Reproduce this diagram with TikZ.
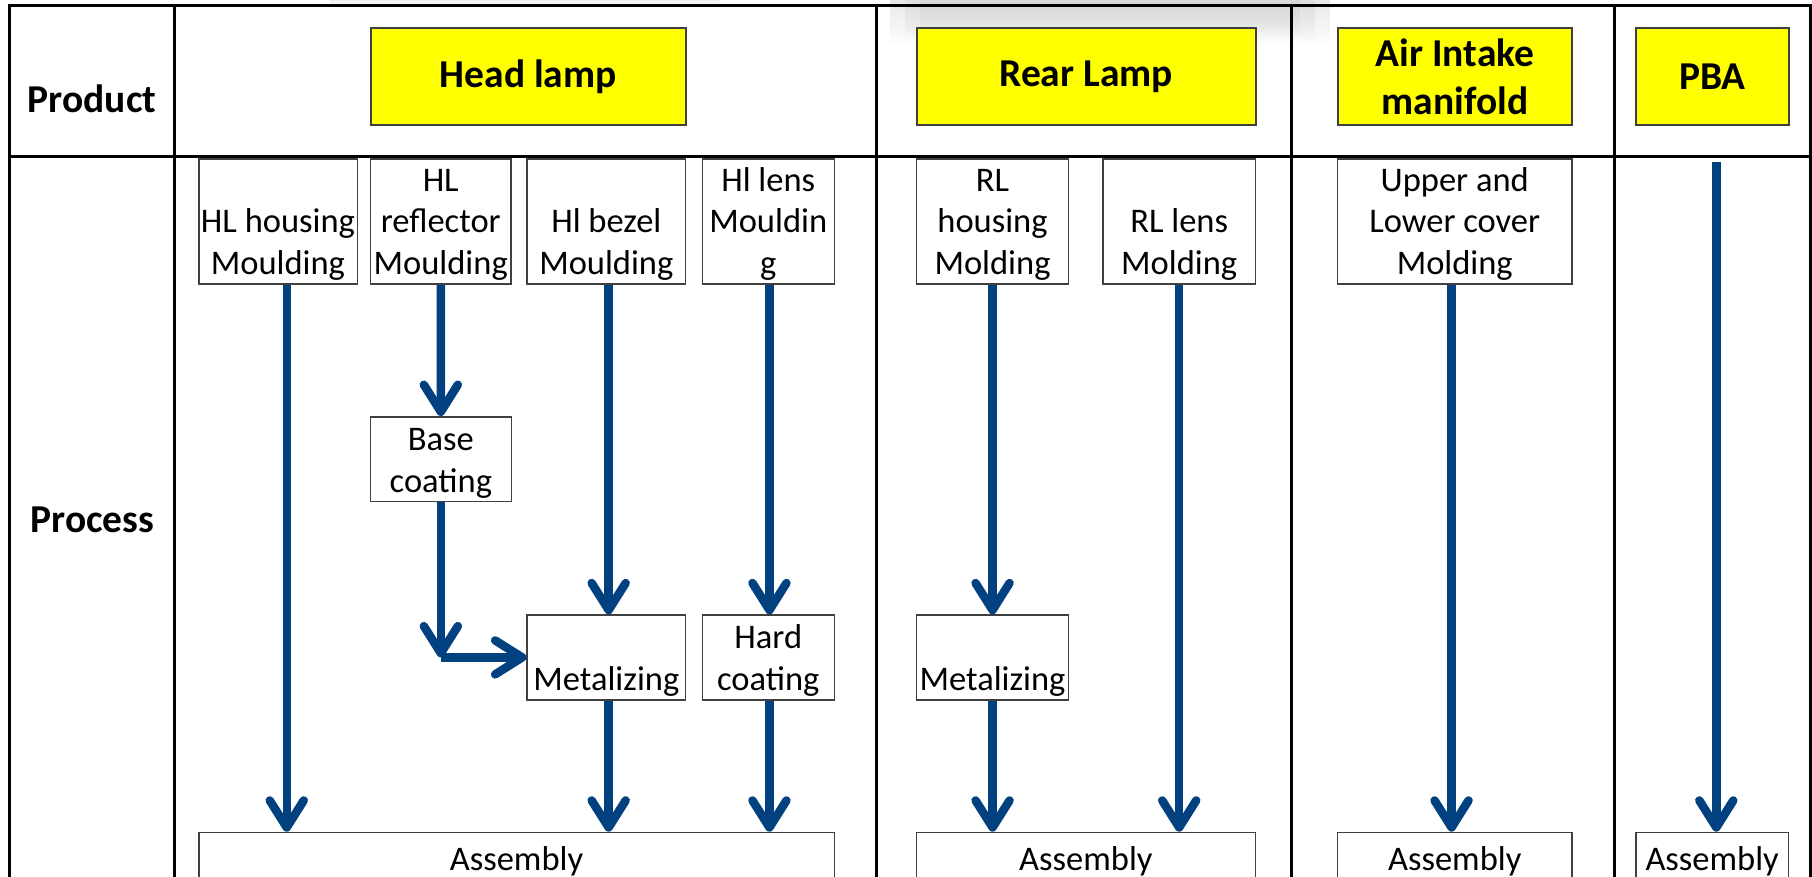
\documentclass[tikz,border=0pt]{standalone}
\usepackage{fontspec}
\setmainfont{Carlito}
\usetikzlibrary{arrows.meta,fadings}
\definecolor{arrowblue}{RGB}{2,65,128}
\definecolor{boxgray}{RGB}{64,64,64}
\definecolor{hiyellow}{RGB}{255,255,0}
\tikzfading[name=fadedown, top color=transparent!0, bottom color=transparent!100]
\newcommand{\pbx}[6]{%
  \node[pbox, anchor=north west, minimum width={#4-#2}, minimum height={#5-#3}] (#1) at (#2,#3) {};
  \node[ptext, anchor=south] (#1t) at ([yshift=4pt]#1.south) {#6};}
\newcommand{\ybx}[6]{%
  \node[ybox, anchor=north west, minimum width={#4-#2}, minimum height={#5-#3}] (#1) at (#2,#3) {#6};}
\begin{document}
\begin{tikzpicture}[x=1pt,y=-1pt,
  frame/.style={line width=3pt, black},
  ybox/.style={draw=boxgray, line width=2pt, fill=hiyellow, inner sep=0pt,
    font=\fontsize{39.5}{48.2}\selectfont\bfseries, align=center},
  pbox/.style={draw=boxgray, line width=1.5pt, fill=white, inner sep=0pt},
  ptext/.style={inner sep=0pt, font=\fontsize{34.5}{41.7}\selectfont, align=center},
  rowlabel/.style={inner sep=0pt, font=\fontsize{39.5}{48.2}\selectfont\bfseries, anchor=base},
  arr/.style={draw=arrowblue, line width=8.5pt, -{Straight Barb[length=27pt,width=34pt,round]}},
]
\fill[white] (0,0) rectangle (1812,877);
\useasboundingbox (0,0) rectangle (1812,877);
% screenshot shadow
\fill[gray!18, path fading=fadedown] (890,0) rectangle (1330,46);
\fill[gray!24, path fading=fadedown] (905,0) rectangle (1315,40);
\fill[gray!30, path fading=fadedown] (920,0) rectangle (1300,34);
\fill[gray!12, path fading=fadedown] (330,0) rectangle (720,6);
% table frame
\draw[frame] (9.5,900) -- (9.5,5.5) -- (1810,5.5) -- (1810,900);
\draw[frame] (9.5,156.7) -- (1810,156.7);
\foreach \xx in {174.5,876.5,1291,1614} \draw[frame] (\xx,5.5) -- (\xx,900);
% row labels
\node[rowlabel] (prod) at (92,112.7) {Product};
\node[rowlabel] (proc) at (92.5,532.7) {Process};
% product boxes
\ybx{hl}{369.7}{26.7}{684.8}{124.3}{Head lamp}
\ybx{rl}{915.7}{26.7}{1254.5}{124.3}{Rear Lamp}
\ybx{ai}{1336.6}{26.7}{1571.4}{124.3}{Air Intake\\manifold}
\ybx{pba}{1635}{26.7}{1787.8}{124.3}{PBA}
% process boxes
\pbx{hlh}{198}{158.3}{356.5}{283.3}{HL housing\\Moulding}
\pbx{hlr}{369.7}{158.3}{510.3}{283.3}{HL\\reflector\\Moulding}
\pbx{hlb}{526.4}{158.3}{684.8}{283.3}{Hl bezel\\Moulding}
\pbx{hll}{701.5}{158.3}{833.5}{283.3}{Hl lens\\Mouldin\\g}
\pbx{rlh}{915.7}{158.3}{1067.9}{283.3}{RL\\housing\\Molding}
\pbx{rll}{1102.4}{158.3}{1254.5}{283.3}{RL lens\\Molding}
\pbx{aic}{1336.6}{158.3}{1571.4}{283.3}{Upper and\\Lower cover\\Molding}
\pbx{base}{369.7}{416}{510.5}{500.7}{Base\\coating}
\pbx{meta}{526.4}{614.3}{684.8}{699}{Metalizing}
\pbx{hard}{701.5}{614.3}{833.5}{699}{Hard\\coating}
\pbx{metb}{915.7}{614.3}{1067.9}{699}{Metalizing}
\pbx{asa}{198}{831.7}{833.5}{879}{Assembly}
\pbx{asb}{915.7}{831.7}{1254.5}{879}{Assembly}
\pbx{asc}{1336.6}{831.7}{1571.4}{879}{Assembly}
\pbx{asd}{1635}{831.7}{1787.8}{879}{Assembly}
% connector anchors
\coordinate (h1) at ([xshift=8.75pt]hlh.south);
\coordinate (b1) at ([xshift=2.3pt]hlb.south);
\coordinate (b2) at ([xshift=2.3pt]meta.south);
\coordinate (l1) at ([xshift=1.2pt]hll.south);
\coordinate (l2) at ([xshift=1.2pt]hard.south);
\coordinate (a1) at ([xshift=-3.2pt]aic.south);
\coordinate (p1) at (1716.3,162.3);
\coordinate (bend) at (base.south |- meta.west);
% connectors
\draw[arr] (h1) -- (h1 |- asa.north);
\draw[arr] (hlr.south) -- (base.north);
\draw[arr] (base.south) -- (bend);
\draw[arr] (bend) -- (meta.west);
\draw[arr] (b1) -- (b1 |- meta.north);
\draw[arr] (b2) -- (b2 |- asa.north);
\draw[arr] (l1) -- (l1 |- hard.north);
\draw[arr] (l2) -- (l2 |- asa.north);
\draw[arr] (rlh.south) -- (metb.north);
\draw[arr] (metb.south) -- (metb.south |- asb.north);
\draw[arr] (rll.south) -- (rll.south |- asb.north);
\draw[arr] (a1) -- (a1 |- asc.north);
\draw[arr] (p1) -- (p1 |- asd.north);
\end{tikzpicture}
\end{document}
